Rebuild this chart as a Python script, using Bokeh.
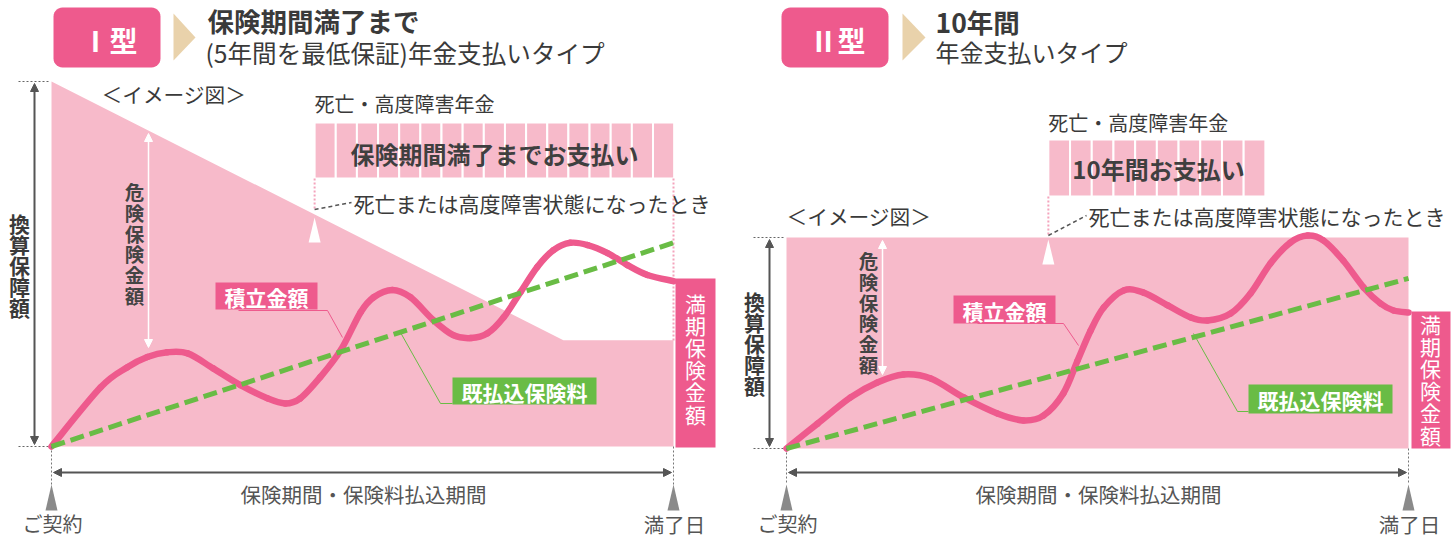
import numpy as np
from bokeh.plotting import figure
from bokeh.layouts import row
from bokeh.models import Range1d, Arrow, NormalHead
from bokeh.core.properties import value
from bokeh.embed import file_html
from bokeh.resources import INLINE

# ---------------- data (time in % of term, amounts in % of initial 換算保障額) ----------------
# Type I
t1 = [0, 7.9, 12.2, 15.4, 18.6, 21.9, 26.0, 30.4, 34.7, 37.6, 40.0, 43.2, 46.5, 49.7, 51.8,
      54.8, 57.7, 61.4, 64.6, 67.4, 70.1, 72.7, 75.4, 78.1, 80.7, 83.4, 86.2, 89.4, 92.6, 95.8, 100]
acc1 = [0, 16.2, 21.7, 24.5, 25.8, 25.5, 21.4, 16.8, 13.2, 11.8, 13.2, 19.0, 26.4, 36.8, 40.9,
        42.9, 40.9, 34.6, 30.5, 29.7, 31.0, 35.4, 42.3, 49.2, 53.8, 55.8, 55.2, 53.0, 49.7, 47.0, 45.3]
prem1_t = [0, 100]
prem1 = [0, 55.8]
death1_t = [0, 82.3, 100]
death1 = [100, 29.1, 29.1]
annuity1_start = 42.3
annuity1_n = 17

# Type II
t2 = [0, 5.0, 10.3, 14.6, 18.8, 23.2, 28.5, 33.9, 38.1, 41.3, 44.5, 46.8, 48.9, 51.0, 54.2,
      57.4, 61.3, 65.0, 67.7, 71.4, 74.6, 77.8, 81.0, 83.8, 86.3, 89.5, 92.8, 95.5, 97.6, 100]
acc2 = [0, 11.8, 24.2, 31.3, 35.1, 33.2, 24.2, 16.6, 13.3, 15.6, 26.1, 41.7, 55.9, 66.8, 74.9,
        73.9, 67.8, 62.1, 60.7, 64.0, 73.5, 87.7, 97.6, 100.9, 98.6, 89.1, 76.3, 68.7, 65.4, 64.5]
prem2_t = [0, 100]
prem2 = [0, 80.6]
death2_t = [0, 100]
death2 = [100, 100]
annuity2_start = 42.1
annuity2_n = 10

# ---------------- styles ----------------
FONT = value("Noto Sans CJK JP")
PINK = "#EE5A8D"
LIGHT = "#F7BACA"
GREEN = "#69BC45"
TAN = "#E9D2AB"
DARK = "#3A3A3A"
GRAY = "#555555"
DOT = "#F4A3BC"
PAGE_H = 538


class Panel:
    def __init__(self, fig_left, width, x0px, x1px, y0py, y100py):
        self.sx = (x1px - x0px) / 100.0
        self.sy = (y0py - y100py) / 100.0
        self.x0px = x0px
        self.y0py = y0py
        self.p = figure(width=width, height=PAGE_H,
                        x_range=Range1d(self.X(fig_left), self.X(fig_left + width)),
                        y_range=Range1d(self.Y(PAGE_H), self.Y(0)),
                        output_backend="svg", toolbar_location=None, min_border=0,
                        x_axis_location=None, y_axis_location=None,
                        outline_line_color=None, background_fill_color="white",
                        border_fill_color="white")
        self.p.grid.visible = False

    def X(self, px):
        return (px - self.x0px) / self.sx

    def Y(self, py):
        return (self.y0py - py) / self.sy

    def text(self, xs, ys, texts, size, color, bold=False, align="left"):
        self.p.text(x=[self.X(v) for v in xs], y=[self.Y(v) for v in ys], text=texts,
                    text_font=FONT, text_font_size=f"{size}px", text_color=color,
                    text_align=align, text_baseline="middle",
                    text_font_style="bold" if bold else "normal")

    def vtext(self, x, y0, step, s, size, color, bold=False):
        chars = list(s)
        self.text([x] * len(chars), [y0 + step * i for i in range(len(chars))], chars,
                  size, color, bold=bold, align="center")

    def line(self, xs, ys, color, width, dash="solid"):
        self.p.line([self.X(v) for v in xs], [self.Y(v) for v in ys], line_color=color,
                    line_width=width, line_dash=dash)

    def arrow(self, x0, y0, x1, y1, color, width, size):
        h1 = NormalHead(size=size, fill_color=color, line_color=color, line_width=1)
        h2 = NormalHead(size=size, fill_color=color, line_color=color, line_width=1)
        self.p.add_layout(Arrow(x_start=self.X(x0), y_start=self.Y(y0), x_end=self.X(x1),
                                y_end=self.Y(y1), start=h1, end=h2, line_color=color,
                                line_width=width))

    def poly(self, pts, color):
        self.p.patch([self.X(a) for a, b in pts], [self.Y(b) for a, b in pts],
                     fill_color=color, line_color=None)

    def box(self, x0, y0, x1, y1, color):
        self.p.quad(left=[self.X(x0)], right=[self.X(x1)], top=[self.Y(y0)],
                    bottom=[self.Y(y1)], fill_color=color, line_color=None)

    def round_box(self, x0, y0, x1, y1, r, color):
        pts = []
        for cx, cy, a0, a1 in [(x1 - r, y0 + r, -90, 0), (x1 - r, y1 - r, 0, 90),
                               (x0 + r, y1 - r, 90, 180), (x0 + r, y0 + r, 180, 270)]:
            for a in np.linspace(np.radians(a0), np.radians(a1), 8):
                pts.append((cx + r * np.cos(a), cy + r * np.sin(a)))
        self.poly(pts, color)

    def cells(self, start, n, w_px, y0, y1):
        w = w_px / self.sx
        lefts = [start + i * w for i in range(n)]
        self.p.quad(left=lefts, right=[v + w for v in lefts], top=[self.Y(y0)] * n,
                    bottom=[self.Y(y1)] * n, fill_color=LIGHT, line_color="white",
                    line_width=2)


def smooth(p, t, y, **kw):
    """Draw a smooth curve through the read points (Catmull-Rom -> Bezier segments)."""
    n = len(t)
    x0, y0, x1, y1, cx0, cy0, cx1, cy1 = ([] for _ in range(8))
    for i in range(n - 1):
        a, b = max(i - 1, 0), min(i + 2, n - 1)
        x0.append(t[i]); y0.append(y[i]); x1.append(t[i + 1]); y1.append(y[i + 1])
        cx0.append(t[i] + (t[i + 1] - t[a]) / 6.0)
        cy0.append(y[i] + (y[i + 1] - y[a]) / 6.0)
        cx1.append(t[i + 1] - (t[b] - t[i]) / 6.0)
        cy1.append(y[i + 1] - (y[b] - y[i]) / 6.0)
    p.bezier(x0=x0, y0=y0, x1=x1, y1=y1, cx0=cx0, cy0=cy0, cx1=cx1, cy1=cy1, **kw)


def common(P, t, acc, prem_t, prem, dt, dv, ann_start, ann_n, cfg):
    p = P.p
    # death benefit area
    p.varea(x=dt, y1=[0] * len(dt), y2=dv, fill_color=LIGHT)
    # annuity cells
    P.cells(ann_start, ann_n, cfg["cell_w"], cfg["cell_top"], cfg["cell_bot"])
    ax = P.x0px + ann_start * P.sx
    P.text([ax], [cfg["ann_label_y"]], ["死亡・高度障害年金"], 20, DARK)
    P.text([cfg["ann_text_x"]], [cfg["ann_text_y"]], [cfg["ann_text"]], 24, "#3F3F3F",
           bold=True, align="center")
    # dotted pink marker lines
    P.line([ax, ax], [cfg["cell_bot"], cfg["dot_end"]], DOT, 2, "2 2")
    for seg in cfg.get("extra_dots", []):
        P.line(seg[0], seg[1], DOT, 2, "2 2")
    # white triangle + leader + text
    ty = cfg["tri_y"]
    P.poly([(ax, ty), (ax - 6, ty + 25), (ax + 6, ty + 25)], "white")
    P.line([ax, cfg["lead_x"]], [cfg["dot_end"] - 1, cfg["lead_y"]], GRAY, 1.5, "4 3")
    P.text([cfg["lead_x"] + 2], [cfg["lead_y"]], ["死亡または高度障害状態になったとき"],
           cfg["death_size"], DARK)
    # image label
    P.text([cfg["img_x"]], [cfg["img_y"]], ["＜イメージ図＞"], 20.7, DARK)
    # 換算保障額
    x0, x1 = P.x0px, P.x0px + 100 * P.sx
    y0, y100 = P.y0py, P.y0py - 100 * P.sy
    ex = cfg["conv_x"]
    P.line([ex - 16, x0 - 1], [y100, y100], "#666666", 1, "2 2")
    P.line([ex - 16, x0 - 1], [y0, y0], "#666666", 1, "2 2")
    P.arrow(ex, y100 + 2, ex, y0 - 2, GRAY, 2, 8)
    P.vtext(ex - 15, cfg["conv_y"], 21, "換算保障額", 21, DARK, bold=True)
    # 危険保険金額
    rx = cfg["risk_x"]
    P.arrow(rx, cfg["risk_top"], rx, cfg["risk_bot"], "white", 1.5, 8)
    P.vtext(rx - 14, cfg["risk_y"], 20.8, "危険保険金額", 19.5, "#444444", bold=True)
    # curves
    smooth(p, t, acc, line_color=PINK, line_width=6.5, line_cap="round")
    p.line(prem_t, prem, line_color=GREEN, line_width=5, line_dash="14 6")
    # 積立金額 label
    bx0, by0, bx1, by1 = cfg["acc_box"]
    P.box(bx0, by0, bx1, by1, PINK)
    P.text([(bx0 + bx1) / 2], [(by0 + by1) / 2 + 1], ["積立金額"], 21, "white", bold=True,
           align="center")
    P.line(cfg["acc_lead"][0], cfg["acc_lead"][1], PINK, 1)
    # 既払込保険料 label
    gx0, gy0, gx1, gy1 = cfg["prem_box"]
    P.line(cfg["prem_lead"][0], cfg["prem_lead"][1], GREEN, 1)
    P.box(gx0, gy0, gx1, gy1, GREEN)
    P.text([(gx0 + gx1) / 2], [(gy0 + gy1) / 2 + 1], ["既払込保険料"], 21, "white", bold=True,
           align="center")
    # 満期保険金額
    mx0, my0, mx1, my1 = cfg["mat_box"]
    P.box(mx0, my0, mx1, my1, PINK)
    P.vtext(cfg["mat_x"], cfg["mat_y"], 22.2, "満期保険金額", 21, "white")
    # bottom period
    for xx in (x0, x1):
        P.line([xx, xx], [y0, 484], "#777777", 1, "2 2")
        P.poly([(xx, 484), (xx - 6, 510), (xx + 6, 510)], "#8A8A8A")
    P.arrow(x0 + 2, 472, x1 - 2, 472, GRAY, 2, 8)
    P.text([(x0 + x1) / 2 + 1], [493], ["保険期間・保険料払込期間"], 20.5, GRAY, align="center")
    P.text([x0 + 1], [523], ["ご契約"], 20, GRAY, align="center")
    P.text([x1 + 1], [523], ["満了日"], 20.5, GRAY, align="center")


# ---------------- Type I ----------------
P1 = Panel(0, 730, 51, 673, 446, 81)
P1.round_box(53, 7, 160, 67, 9, PINK)
P1.text([109], [39], ["Ⅰ型"], 28, "white", bold=True, align="center")
P1.poly([(173, 13), (173, 60), (195, 37)], TAN)
P1.text([207], [20], ["保険期間満了まで"], 26.5, DARK, bold=True)
P1.text([205], [51], ["(5年間を最低保証)年金支払いタイプ"], 24.6, DARK)
common(P1, t1, acc1, prem1_t, prem1, death1_t, death1, annuity1_start, annuity1_n, dict(
    cell_w=21.15, cell_top=122, cell_bot=178, ann_label_y=103,
    ann_text="保険期間満了までお支払い", ann_text_x=494, ann_text_y=153,
    dot_end=210, extra_dots=[([673, 673], [178, 340])],
    tri_y=217, lead_x=351, lead_y=202, death_size=21,
    img_x=101, img_y=93,
    conv_x=34, conv_y=222,
    risk_x=148, risk_top=133, risk_bot=347, risk_y=191,
    acc_box=(215, 282, 317, 309), acc_lead=([238, 327, 342], [310, 310, 337]),
    prem_box=(452, 377, 596, 404), prem_lead=([400, 440, 452], [332, 403, 403]),
    mat_box=(675, 278, 715, 447), mat_x=695, mat_y=302,
))

# ---------------- Type II ----------------
P2 = Panel(730, 722, 786, 1408, 448, 237)
P2.round_box(781, 7, 888, 67, 9, PINK)
P2.text([837], [39], ["Ⅱ型"], 28, "white", bold=True, align="center")
P2.poly([(902, 13), (902, 60), (925, 37)], TAN)
P2.text([935], [21], ["10年間"], 26.5, DARK, bold=True)
P2.text([935], [51], ["年金支払いタイプ"], 24, DARK)
common(P2, t2, acc2, prem2_t, prem2, death2_t, death2, annuity2_start, annuity2_n, dict(
    cell_w=21.7, cell_top=139, cell_bot=196, ann_label_y=122,
    ann_text="10年間お支払い", ann_text_x=1158, ann_text_y=168,
    dot_end=236, extra_dots=[],
    tri_y=239, lead_x=1086, lead_y=215, death_size=21,
    img_x=786, img_y=215,
    conv_x=769, conv_y=300,
    risk_x=882, risk_top=240, risk_bot=374, risk_y=260,
    acc_box=(953, 295, 1055, 323), acc_lead=([977, 1063, 1078], [323, 323, 345]),
    prem_box=(1248, 384, 1392, 413), prem_lead=([1193, 1237, 1248], [333, 411, 411]),
    mat_box=(1411, 311, 1450, 448), mat_x=1430, mat_y=323,
))

layout = row(P1.p, P2.p)
open("out.html", "w").write(file_html(layout, INLINE))
